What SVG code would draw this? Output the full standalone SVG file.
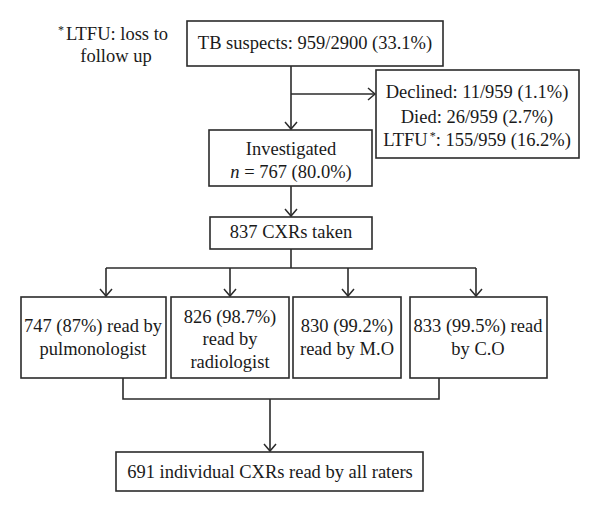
<svg xmlns="http://www.w3.org/2000/svg" width="600" height="512" viewBox="0 0 600 512">
<defs>
<marker id="arr" markerWidth="14" markerHeight="14" refX="10" refY="7" orient="auto" markerUnits="userSpaceOnUse">
<path d="M3,1 L10,7 L3,13" fill="none" stroke="#2b2b2b" stroke-width="1.5"/>
</marker>
</defs>
<style>
.box{fill:#fff;stroke:#2b2b2b;stroke-width:1.6}
.ln{fill:none;stroke:#2b2b2b;stroke-width:1.6}
text{font-family:"Liberation Serif","Times New Roman",serif;font-size:18.5px;fill:#1a1a1a;text-anchor:middle}
</style>
<rect width="600" height="512" fill="#fff"/>
<g id="connectors">
<path class="ln" d="M291,66 V129" marker-end="url(#arr)"/>
<path class="ln" d="M291,94 H375" marker-end="url(#arr)"/>
<path class="ln" d="M291,186 V216" marker-end="url(#arr)"/>
<path class="ln" d="M291,249 V268"/>
<path class="ln" d="M106,268 H476"/>
<path class="ln" d="M106,268 V296" marker-end="url(#arr)"/>
<path class="ln" d="M230,268 V296" marker-end="url(#arr)"/>
<path class="ln" d="M348,268 V296" marker-end="url(#arr)"/>
<path class="ln" d="M476,268 V296" marker-end="url(#arr)"/>
<path class="ln" d="M123,378 V399 H439 V378"/>
<path class="ln" d="M270,399 V451" marker-end="url(#arr)"/>
</g>
<g id="note">
<text x="113" y="40"><tspan font-size="12" dy="-6">*</tspan><tspan dx="2" dy="6">LTFU: loss to</tspan></text>
<text x="116" y="62">follow up</text>
</g>
<g id="tb">
<rect class="box" x="187" y="21" width="256" height="45"/>
<text x="315" y="49">TB suspects: 959/2900 (33.1%)</text>
</g>
<g id="excluded">
<rect class="box" x="376" y="70" width="203" height="88"/>
<text x="477" y="98">Declined: 11/959 (1.1%)</text>
<text x="477" y="123">Died: 26/959 (2.7%)</text>
<text x="477" y="146">LTFU<tspan font-size="12" dx="2" dy="-6">*</tspan><tspan dy="6">: 155/959 (16.2%)</tspan></text>
</g>
<g id="investigated">
<rect class="box" x="209" y="130" width="163" height="56"/>
<text x="291" y="155">Investigated</text>
<text x="291" y="178"><tspan font-style="italic">n</tspan> = 767 (80.0%)</text>
</g>
<g id="cxrs">
<rect class="box" x="210" y="217" width="162" height="32"/>
<text x="291" y="238">837 CXRs taken</text>
</g>
<g id="pulmonologist">
<rect class="box" x="21" y="297" width="145" height="81"/>
<text x="93" y="332">747 (87%) read by</text>
<text x="93" y="355">pulmonologist</text>
</g>
<g id="radiologist">
<rect class="box" x="171" y="297" width="118" height="81"/>
<text x="230" y="323">826 (98.7%)</text>
<text x="230" y="345">read by</text>
<text x="230" y="368">radiologist</text>
</g>
<g id="mo">
<rect class="box" x="293" y="297" width="108" height="81"/>
<text x="347" y="332">830 (99.2%)</text>
<text x="347" y="355">read by M.O</text>
</g>
<g id="co">
<rect class="box" x="410" y="297" width="137" height="81"/>
<text x="478" y="332">833 (99.5%) read</text>
<text x="478" y="355">by C.O</text>
</g>
<g id="all">
<rect class="box" x="116" y="452" width="307" height="39"/>
<text x="270" y="478">691 individual CXRs read by all raters</text>
</g>
</svg>
